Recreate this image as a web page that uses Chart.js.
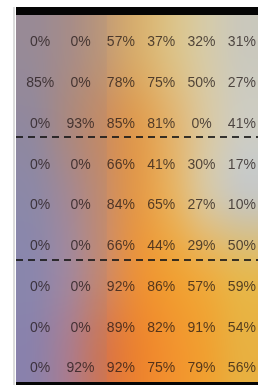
<!DOCTYPE html>
<html>
<head>
<meta charset="utf-8">
<script src="https://cdn.jsdelivr.net/npm/chart.js@4/dist/chart.umd.min.js"></script>
<style>
html,body{margin:0;padding:0;background:#fff;}
canvas{display:block;}
</style>
</head>
<body>
<canvas id="c" width="258" height="385"></canvas>
<script>
// ---- data ----
const rowIndex = [0, 1, 2, 3, 4, 5, 6, 7, 8];
const colA = [0, 85, 0, 0, 0, 0, 0, 0, 0];
const colB = [0, 0, 93, 0, 0, 0, 0, 0, 92];
const colC = [57, 78, 85, 66, 84, 66, 92, 89, 92];
const colD = [37, 75, 81, 41, 65, 44, 86, 82, 75];
const colE = [32, 50, 0, 30, 27, 29, 57, 91, 79];
const colF = [31, 27, 41, 17, 10, 50, 59, 54, 56];
const groupBreaks = [2.5, 5.5];

const series = [colA, colB, colC, colD, colE, colF];

// ---- background style (smooth colour field) ----
const bgAnchors = [
  ['#9a8c98','#aa8e88','#c29a76','#d8ae6c','#dcc286','#d6cba8','#cac8bc'],
  ['#928aa0','#b08a7c','#cc8c5e','#e09a4c','#e2b26c','#dac8a0','#cecdc2'],
  ['#8c8aac','#a68a96','#c88c6a','#e49846','#e8b25e','#d8c8a2','#c6c7c4'],
  ['#8a88b2','#a48aa2','#cc8a6c','#ec9238','#f0a032','#eeac40','#e6b84e'],
  ['#8a82b0','#ae7c90','#d6744c','#ec822e','#f2922e','#f0a030','#e8b040']
];

const bgPlugin = {
  id: 'bg',
  beforeDraw(chart) {
    const {ctx, chartArea: a, width, height} = chart;
    ctx.save();
    ctx.fillStyle = '#ffffff';
    ctx.fillRect(0, 0, width, height);
    // thin frame line at left
    ctx.fillStyle = '#dcdcdc';
    ctx.fillRect(a.left - 3, a.top - 8, 2, height - a.top + 8);
    // colour field
    const sw = bgAnchors[0].length, sh = bgAnchors.length;
    const off = document.createElement('canvas');
    off.width = sw; off.height = sh;
    const oc = off.getContext('2d');
    bgAnchors.forEach((row, j) => row.forEach((col, i) => {
      oc.fillStyle = col; oc.fillRect(i, j, 1, 1);
    }));
    ctx.imageSmoothingEnabled = true;
    ctx.imageSmoothingQuality = 'high';
    ctx.drawImage(off, a.left, a.top, a.right - a.left, a.bottom - a.top);
    // muted left block
    const xs = chart.scales.x;
    const edge = xs.getPixelForValue(1.65);
    ctx.fillStyle = 'rgba(140,130,145,0.14)';
    ctx.fillRect(a.left, a.top, edge - a.left, a.bottom - a.top);
    // black bars
    ctx.fillStyle = '#050505';
    ctx.fillRect(a.left, a.top - 8, width - a.left, 8);
    ctx.fillRect(a.left, a.bottom, width - a.left, height - a.bottom);
    ctx.restore();
  },
  afterDatasetsDraw(chart) {
    const {ctx, chartArea: a} = chart;
    const ys = chart.scales.y;
    ctx.save();
    // group separators
    ctx.strokeStyle = 'rgba(25,25,25,0.85)';
    ctx.lineWidth = 2;
    ctx.setLineDash([7, 5]);
    groupBreaks.forEach(v => {
      const y = Math.round(ys.getPixelForValue(v));
      ctx.beginPath();
      ctx.moveTo(a.left, y);
      ctx.lineTo(a.right, y);
      ctx.stroke();
    });
    ctx.setLineDash([]);
    // value labels
    ctx.font = '14px "Liberation Sans", Arial, sans-serif';
    ctx.textAlign = 'center';
    ctx.textBaseline = 'middle';
    ctx.fillStyle = 'rgba(30,20,20,0.74)';
    chart.data.datasets.forEach((ds, di) => {
      const meta = chart.getDatasetMeta(di);
      meta.data.forEach((el, i) => {
        ctx.fillText(ds.data[i].v + '%', el.x, el.y + 7);
      });
    });
    ctx.restore();
  }
};

new Chart(document.getElementById('c'), {
  type: 'scatter',
  data: {
    datasets: series.map((vals, c) => ({
      data: vals.map((v, r) => ({x: c, y: rowIndex[r], v: v})),
      pointRadius: 0,
      pointHoverRadius: 0
    }))
  },
  options: {
    responsive: false,
    animation: false,
    events: [],
    layout: {padding: {left: 16, top: 15, right: 0, bottom: 3}},
    plugins: {legend: {display: false}, tooltip: {enabled: false}},
    scales: {
      x: {type: 'linear', min: -0.6, max: 5.4, display: false},
      y: {type: 'linear', min: -0.5, max: 8.5, reverse: true, display: false}
    }
  },
  plugins: [bgPlugin]
});
</script>
</body>
</html>
